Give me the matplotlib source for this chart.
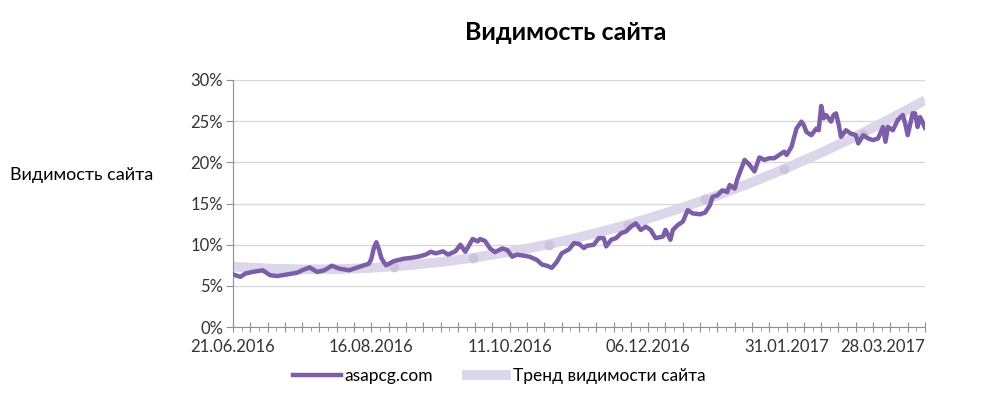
import matplotlib
matplotlib.use('Agg')
import matplotlib.pyplot as plt
from matplotlib.ticker import FixedLocator, MultipleLocator, PercentFormatter
import pandas as pd

plt.rcParams['font.family'] = ['Lato', 'DejaVu Sans']

start = pd.Timestamp('2016-06-21')
end_day = 280

# видимость asapcg.com, дни от 21.06.2016 и значения в %
days = [0, 3, 5, 8, 12, 15, 18, 22, 26, 28, 31, 34, 37, 40, 43, 47, 50, 53, 55, 56,
        57, 58, 59, 60, 61, 62, 65, 69, 72, 75, 78, 80, 82, 85, 87, 90, 92, 94, 96, 97,
        99, 100, 102, 104, 106, 109, 111, 113, 115, 117, 120, 123, 125, 127, 129, 131, 133, 136, 138, 140,
        142, 143, 146, 148, 150, 151, 153, 155, 157, 159, 161, 163, 165, 167, 169, 171, 174, 175, 177, 178,
        180, 182, 184, 186, 189, 191, 193, 194, 196, 198, 200, 201, 203, 204, 205, 207, 209, 211, 213, 215,
        217, 219, 221, 223, 224, 226, 228, 230, 231, 232, 234, 236, 237, 238, 239, 240, 242, 243, 244, 245,
        246, 248, 250, 252, 253, 255, 257, 259, 261, 263, 264, 265, 267, 269, 271, 272, 273, 275, 276, 277,
        278, 279, 280]
visibility = [6.4, 6.1, 6.5, 6.7, 6.9, 6.3, 6.2, 6.4, 6.6, 6.9, 7.25, 6.7, 6.9, 7.45, 7.1, 6.9, 7.2, 7.5, 7.7, 8.3,
              9.6, 10.3, 9.5, 8.4, 7.9, 7.5, 8.0, 8.3, 8.4, 8.55, 8.8, 9.15, 8.95, 9.2, 8.8, 9.2, 10.0, 9.15, 10.2, 10.7,
              10.4, 10.7, 10.45, 9.55, 9.1, 9.55, 9.35, 8.55, 8.8, 8.7, 8.55, 8.15, 7.6, 7.45, 7.2, 7.9, 8.95, 9.45, 10.2, 10.1,
              9.6, 9.85, 10.0, 10.8, 10.8, 9.8, 10.6, 10.8, 11.4, 11.6, 12.2, 12.6, 11.8, 12.2, 11.8, 10.8, 11.0, 11.8, 10.6, 11.8,
              12.4, 12.8, 14.2, 13.8, 13.7, 13.9, 14.8, 15.8, 16.0, 16.6, 16.4, 17.25, 16.8, 17.9, 18.7, 20.3, 19.7, 18.9, 20.6, 20.3,
              20.5, 20.5, 20.9, 21.3, 20.9, 21.9, 24.1, 24.95, 24.5, 23.7, 23.3, 24.1, 23.9, 26.85, 25.35, 25.75, 24.95, 25.75, 25.95, 24.7,
              23.1, 23.9, 23.5, 23.3, 22.3, 23.3, 22.9, 22.7, 22.9, 24.3, 22.5, 24.3, 23.9, 25.15, 25.75, 24.7, 23.3, 25.95, 25.95, 24.3,
              25.5, 24.9, 24.2]

# тренд видимости сайта
trend_days = [0, 14, 28, 42, 56, 70, 84, 98, 112, 126, 140, 154, 168, 182, 196, 210, 224, 238, 252, 266, 280]
trend = [7.34, 7.11, 7.01, 7.03, 7.19, 7.48, 7.90, 8.45, 9.14, 9.95, 10.90, 11.97, 13.18, 14.52, 15.98,
         17.58, 19.31, 21.17, 23.16, 25.29, 27.54]
trend_mark_days = [65, 97, 128, 160, 191, 223, 255]
trend_mark = [7.3, 8.4, 10.0, 12.4, 15.5, 19.2, 23.5]

week_days = list(range(0, end_day + 1, 7))
label_days = [0, 56, 112, 168, 224, 280]
labels = [(start + pd.Timedelta(days=d)).strftime('%d.%m.%Y') if d in label_days else '' for d in week_days]

fig = plt.figure(figsize=(9.83, 3.96), dpi=100)
ax = fig.add_axes([0.237, 0.174, 0.704, 0.624])

ax.plot(trend_days, trend, color='#dcd6ea', linewidth=7, solid_capstyle='butt',
        label='Тренд видимости сайта', zorder=2)
ax.plot(trend_mark_days, trend_mark, linestyle='none', marker='o', markersize=6,
        color='#cdc3df', zorder=2)
ax.plot(days, visibility, color='#7b5ea7', linewidth=3.2, label='asapcg.com', zorder=3)

ax.set_xlim(0, end_day)
ax.set_ylim(0, 30)
ax.yaxis.set_major_locator(MultipleLocator(5))
ax.yaxis.set_major_formatter(PercentFormatter(decimals=0))
ax.grid(axis='y', color='#d9d9d9', linewidth=1)
ax.set_axisbelow(True)

ax.xaxis.set_major_locator(FixedLocator(week_days))
ax.set_xticklabels(labels)
ax.xaxis.set_minor_locator(FixedLocator([d + 3.5 for d in week_days[:-1]]))
ax.tick_params(axis='x', which='major', direction='inout', length=7, color='#909090',
               labelsize=12, labelcolor='#333333', pad=5)
ax.tick_params(axis='x', which='minor', direction='out', length=3, color='#909090')
ax.tick_params(axis='y', length=5, direction='out', color='#909090',
               labelsize=12, labelcolor='#333333', pad=2)
ax.get_xticklabels()[-1].set_ha('right')

for s in ['top', 'right']:
    ax.spines[s].set_visible(False)
ax.spines['left'].set_color('#909090')
ax.spines['bottom'].set_color('#909090')

fig.text(0.575, 0.917, 'Видимость сайта', ha='center', va='center', fontsize=18, fontweight='bold')
fig.text(0.01, 0.558, 'Видимость сайта', ha='left', va='center', fontsize=13)

handles, lbls = ax.get_legend_handles_labels()
fig.legend(handles[::-1], lbls[::-1], loc='center', bbox_to_anchor=(0.508, 0.05), ncol=2,
           frameon=False, fontsize=12.5, handlelength=2.8, handletextpad=0.15, columnspacing=1.7)

fig.savefig('out.png', dpi=100)
